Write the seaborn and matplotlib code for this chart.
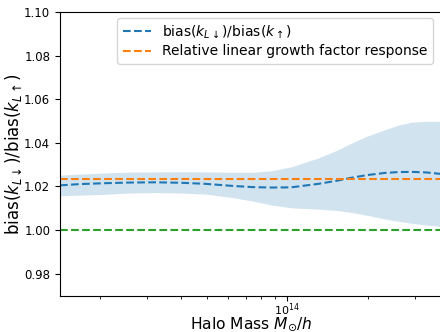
import numpy as np
import pandas as pd
import matplotlib
matplotlib.use("Agg")
import matplotlib.pyplot as plt
import seaborn as sns
from matplotlib.ticker import NullFormatter

# Data
mass = [1.414e13, 1.681e13, 2.087e13, 2.592e13, 3.217e13, 3.995e13, 4.96e13,
        6.16e13, 7.45e13, 8.71e13, 1.035e14, 1.308e14, 1.529e14, 1.740e14,
        1.982e14, 2.315e14, 2.614e14, 2.926e14, 3.33e14, 3.79e14]
ratio_mean = [1.0205, 1.0211, 1.0215, 1.0218, 1.0219, 1.0217, 1.0212,
              1.0203, 1.0197, 1.0195, 1.0196, 1.0212, 1.0226, 1.0240,
              1.0252, 1.0262, 1.0266, 1.0267, 1.0264, 1.0257]
ratio_upper = [1.0252, 1.0257, 1.0262, 1.0266, 1.0267, 1.0268, 1.0267,
               1.0265, 1.0265, 1.0272, 1.0290, 1.0331, 1.0365, 1.0399,
               1.0430, 1.0460, 1.0482, 1.0495, 1.0499, 1.0498]
ratio_lower = [1.0157, 1.0160, 1.0164, 1.0170, 1.0172, 1.0170, 1.0165,
               1.0150, 1.0133, 1.0115, 1.0102, 1.0096, 1.0090, 1.0081,
               1.0068, 1.0051, 1.0040, 1.0031, 1.0023, 1.0016]
growth_response = 1.0233
unity = 1.0

df = pd.DataFrame({
    "mass": mass,
    "mean": ratio_mean,
    "upper": ratio_upper,
    "lower": ratio_lower,
    "growth": [growth_response] * len(mass),
    "unity": [unity] * len(mass),
})

fig = plt.figure(figsize=(4.4, 3.32), dpi=100)
ax = fig.add_axes([60 / 440, 36.5 / 332, 382 / 440, 283.5 / 332])

ax.fill_between(df["mass"], df["lower"], df["upper"], color="#1f77b4",
                alpha=0.2, linewidth=0)
sns.lineplot(data=df, x="mass", y="mean", ax=ax, color="#1f77b4",
             linestyle="--", linewidth=1.5,
             label=r"bias($k_{L\downarrow}$)/bias($k_\uparrow$)")
sns.lineplot(data=df, x="mass", y="growth", ax=ax, color="#ff7f0e",
             linestyle="--", linewidth=1.5,
             label="Relative linear growth factor response")
sns.lineplot(data=df, x="mass", y="unity", ax=ax, color="#2ca02c",
             linestyle="--", linewidth=1.5, label="_nolegend_")

ax.set_xscale("log")
ax.set_xlim(mass[0], mass[-1])
ax.set_ylim(0.97, 1.10)
ax.set_yticks([0.98, 1.00, 1.02, 1.04, 1.06, 1.08, 1.10])
ax.xaxis.set_minor_formatter(NullFormatter())
ax.tick_params(axis="y", labelsize=8.5)
ax.tick_params(axis="x", labelsize=8, pad=1)
ax.set_xlabel(r"Halo Mass $M_{\odot}/h$", fontsize=11.2)
ax.set_ylabel(r"bias($k_{L\downarrow}$)/bias($k_{L\uparrow}$)", fontsize=12)
ax.xaxis.set_label_coords(0.5, -0.069)
ax.yaxis.set_label_coords(-0.094, 0.5)

ax.legend(loc="upper right", fontsize=10, bbox_to_anchor=(0.976, 0.979),
          borderaxespad=0, framealpha=0.8, labelspacing=0.3)

fig.savefig("out.png", dpi=100)
